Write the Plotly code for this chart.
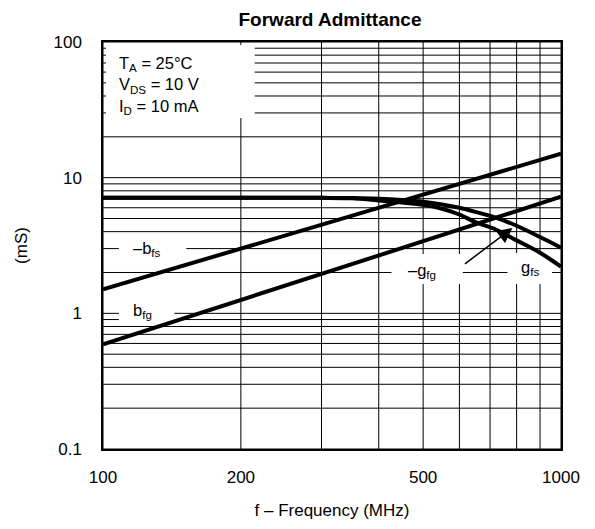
import math
import plotly.graph_objects as go

# Data
freq_line = [100, 1000]
neg_bfs = [1.5, 15.0]
b_fg = [0.59, 7.24]

freq_g = [100, 200, 300, 350, 400, 450, 500, 550, 600, 650, 720, 800, 900, 1000]
g_fs = [7.1, 7.1, 7.1, 7.08, 7.0, 6.85, 6.65, 6.35, 6.0, 5.6, 5.07, 4.42, 3.65, 3.05]
neg_gfg = [7.1, 7.1, 7.1, 7.05, 6.8, 6.55, 6.3, 5.9, 5.35, 4.7, 4.15, 3.45, 2.8, 2.21]

x_tickvals = [100, 200, 300, 400, 500, 600, 700, 800, 900, 1000]
x_ticktext = ["100", "200", "", "", "500", "", "", "", "", "1000"]
y_tickvals = [m * d for d in [0.1, 1, 10] for m in range(1, 10)] + [100]
y_labels = {0.1: "0.1", 1: "1", 10: "10", 100: "100"}
y_ticktext = [y_labels.get(v, "") for v in y_tickvals]

FONT = "Liberation Sans, Arial, sans-serif"
XR = [2, 3]
YR = [-1, 2]

# page has an 8px body margin; plot area in page px: x 99..561, y 42..449
W, H = 587, 521
PL, PT, PW, PH = 99, 42, 462, 407


def px(x):
    return (x - PL) / PW


def py(y):
    return 1 - (y - PT) / PH


fig = go.Figure()
line_style = dict(color="black", width=4)
fig.add_trace(go.Scatter(x=freq_line, y=neg_bfs, mode="lines", line=line_style, name="-bfs"))
fig.add_trace(go.Scatter(x=freq_line, y=b_fg, mode="lines", line=line_style, name="bfg"))
fig.add_trace(go.Scatter(x=freq_g, y=g_fs, mode="lines",
                         line=dict(color="black", width=4, shape="spline", smoothing=0.8), name="gfs"))
fig.add_trace(go.Scatter(x=freq_g, y=neg_gfg, mode="lines",
                         line=dict(color="black", width=4, shape="spline", smoothing=0.8), name="-gfg"))

fig.update_layout(
    width=W, height=H,
    margin=dict(l=PL - 8, r=W - (PL - 8) - PW, t=PT - 8, b=H - (PT - 8) - PH),
    paper_bgcolor="white", plot_bgcolor="white",
    showlegend=False,
    font=dict(family=FONT, size=17, color="black"),
    title=dict(text="<b>Forward Admittance</b>", x=(330 - 8) / W, xanchor="center",
               y=1 - (19 - 8) / H, yanchor="middle",
               font=dict(family=FONT, size=19, color="black")),
    xaxis=dict(type="log", range=XR, tickvals=x_tickvals, ticktext=x_ticktext,
               showgrid=False, ticks="",
               showline=True, linecolor="black", linewidth=1.5, mirror=True,
               tickfont=dict(size=17), ticklabelstandoff=12,
               title=dict(text="f – Frequency (MHz)", font=dict(size=17), standoff=18)),
    yaxis=dict(type="log", range=YR, tickvals=y_tickvals, ticktext=y_ticktext,
               showgrid=False, ticks="",
               showline=True, linecolor="black", linewidth=1.5, mirror=True,
               tickfont=dict(size=17), ticklabelstandoff=16,
               title=dict(text="(mS)", font=dict(size=17), standoff=22)),
)

# Grid lines as background shapes (so the white label boxes can sit over them)
for v in x_tickvals:
    xp = (math.log10(v) - XR[0]) / (XR[1] - XR[0])
    fig.add_shape(type="line", xref="paper", yref="paper", x0=xp, x1=xp, y0=0, y1=1,
                  line=dict(color="black", width=1), layer="below")
for v in y_tickvals:
    yp = (math.log10(v) - YR[0]) / (YR[1] - YR[0])
    fig.add_shape(type="line", xref="paper", yref="paper", x0=0, x1=1, y0=yp, y1=yp,
                  line=dict(color="black", width=1), layer="below")

# White label backgrounds (page px), over the grid but under the curves
boxes = [(102, 45, 252, 118), (115, 238, 183, 258), (115, 302, 171, 322),
         (390, 254, 462, 284), (507, 253, 552, 284)]
for x0, y0, x1, y1 in boxes:
    fig.add_shape(type="rect", xref="paper", yref="paper", x0=px(x0), x1=px(x1), y0=py(y1), y1=py(y0),
                  fillcolor="white", line=dict(width=0), layer="below")

# Conditions text
fig.add_annotation(xref="paper", yref="paper", x=px(113), y=py(52), xanchor="left", yanchor="top",
                   text="T<sub>A</sub> = 25°C<br>V<sub>DS</sub> = 10 V<br>I<sub>D</sub> = 10 mA",
                   showarrow=False, align="left", font=dict(size=16.5))
# Curve labels
labels = [("–b<sub>fs</sub>", 143, 249), ("b<sub>fg</sub>", 139, 311),
          ("–g<sub>fg</sub>", 421, 271), ("g<sub>fs</sub>", 530, 268)]
for t, x, y in labels:
    fig.add_annotation(xref="paper", yref="paper", x=px(x), y=py(y), text=t, showarrow=False,
                       xanchor="center", yanchor="middle", font=dict(size=16.5))
# Arrow
fig.add_annotation(xref="paper", yref="paper", x=px(512), y=py(228), ax=-49, ay=37, text="",
                   showarrow=True, arrowhead=2, arrowsize=2, arrowwidth=1.5, arrowcolor="black", standoff=0)

fig.write_html("out.html")
